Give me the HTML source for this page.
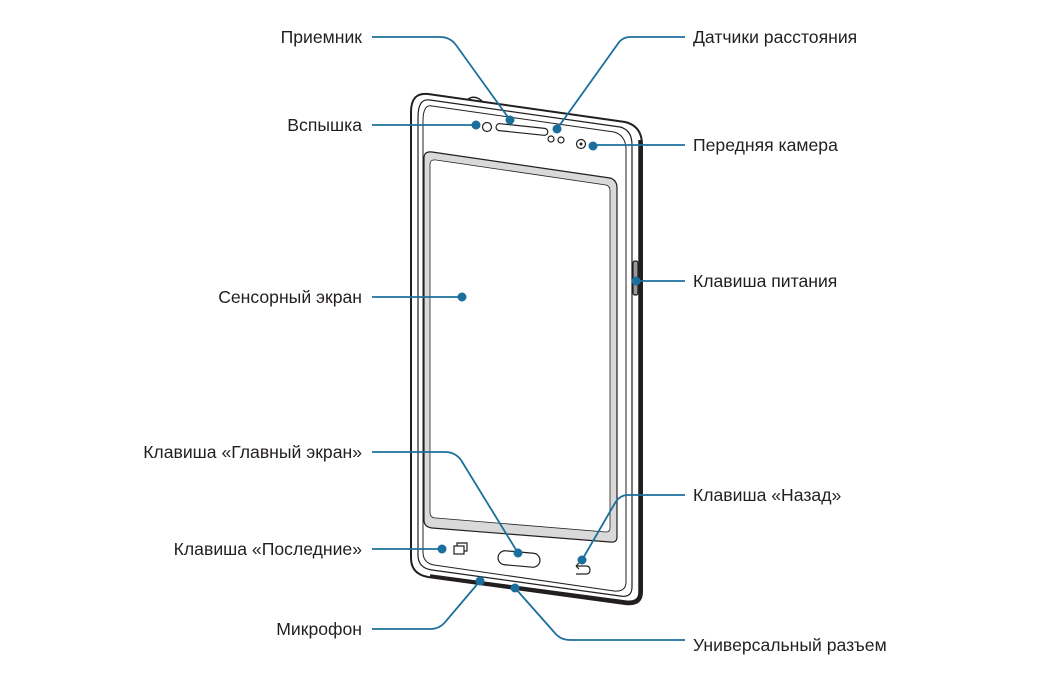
<!DOCTYPE html>
<html><head><meta charset="utf-8"><style>
html,body{margin:0;padding:0;background:#fff;}
svg{display:block}
text{font-family:"Liberation Sans",sans-serif;font-size:17.6px;fill:#231f20}
</style></head><body>
<svg width="1043" height="675" viewBox="0 0 1043 675" xmlns="http://www.w3.org/2000/svg">
<g fill="none" stroke="#231f20">
<path d="M428 94 L625 122 Q642 126 642 145 L642 592 Q642 606 625 604 L428 577 Q411 574 411 558 L411 112 Q411 92 428 94 Z" stroke-width="2"/>
<path d="M640 140 L640 592 Q640 604 625 602 L430 576" stroke-width="3.5"/>
<path d="M430 100 L620 127 Q632 130 632 145 L632 587 Q632 598 620 596 L432 570 Q418 568 418 555 L418 117 Q418 98 430 100 Z" stroke-width="1.2"/>
<path d="M432 106 L614 132 Q625 135 626 148 L626 582 Q626 592 614 591 L434 565 Q423 563 423 552 L423 121 Q423 104 432 106Z" stroke-width="1"/>
<path d="M467 100 Q474 94 482 101" stroke-width="1.5"/>
<path d="M432 152 L610 178 Q617 180 617 188 L617 537 Q617 543 610 542 L432 528 Q424 527 424 520 L424 158 Q424 151 432 152Z" stroke-width="1.2" fill="#d9d9d9"/>
<path d="M436 160 L606 185 Q610 186 610 191 L610 528 Q610 532 606 532 L436 518 Q430 518 430 512 L430 165 Q430 159 436 160Z" stroke-width="0.8" fill="#fff"/>
<circle cx="487" cy="127" r="4.5" stroke-width="1.2"/>
<rect x="496" y="126" width="52" height="7" rx="3.5" stroke-width="1.2" transform="rotate(6 522 129)"/>
<circle cx="551" cy="139" r="3" stroke-width="1.2"/>
<circle cx="561" cy="140" r="3" stroke-width="1.2"/>
<circle cx="581" cy="144" r="4.5" stroke-width="1.2"/>
<circle cx="581" cy="144" r="1.5" fill="#231f20" stroke="none"/>
<rect x="633" y="261" width="5" height="34" rx="2" stroke-width="1.2" fill="#999"/>
<rect x="498" y="552" width="42" height="14" rx="7" stroke-width="1.2" transform="rotate(5 519 559)"/>
<rect x="454" y="546" width="10" height="8" stroke-width="1.2"/>
<path d="M457 546 L457 543 L467 543 L467 551 L464 551" stroke-width="1.2"/>
<path d="M576 566 L586 566 Q590 566 590 570 Q590 574 586 574 L576 574 M576 566 L579 563 M576 566 L579 569" stroke-width="1.2"/>
<path d="M470 582 L530 590" stroke-width="2"/>
</g>
<g fill="none" stroke="#1b6f9c" stroke-width="1.8">
<path d="M372 37 L440 37 Q450 37 456 45 L510 120"/>
<path d="M685 37 L630 37 Q622 37 617 45 L557 129"/>
<path d="M372 125 L476 125"/>
<path d="M593 145 L685 145"/>
<path d="M636 281 L685 281"/>
<path d="M372 297 L462 297"/>
<path d="M372 452 L445 452 Q455 452 461 460 L518 553"/>
<path d="M685 495 L628 495 Q620 495 615 503 L582 560"/>
<path d="M372 549 L442 549"/>
<path d="M372 629 L430 629 Q440 629 446 621 L480 581"/>
<path d="M685 640 L570 640 Q560 640 554 632 L515 588"/>
</g>
<g fill="#1b6f9c">
<circle cx="510" cy="120" r="4.5"/><circle cx="557" cy="129" r="4.5"/>
<circle cx="476" cy="125" r="4.5"/><circle cx="593" cy="146" r="4.5"/>
<circle cx="636" cy="281" r="4.5"/><circle cx="462" cy="297" r="4.5"/>
<circle cx="518" cy="553" r="4.5"/><circle cx="582" cy="560" r="4.5"/>
<circle cx="442" cy="549" r="4.5"/><circle cx="480" cy="581" r="4.5"/>
<circle cx="515" cy="588" r="4.5"/>
</g>
<g text-anchor="end">
<text x="362" y="43">Приемник</text>
<text x="362" y="131">Вспышка</text>
<text x="362" y="303">Сенсорный экран</text>
<text x="362" y="458">Клавиша «Главный экран»</text>
<text x="362" y="555">Клавиша «Последние»</text>
<text x="362" y="635">Микрофон</text>
</g>
<g>
<text x="693" y="43">Датчики расстояния</text>
<text x="693" y="151">Передняя камера</text>
<text x="693" y="287">Клавиша питания</text>
<text x="693" y="501">Клавиша «Назад»</text>
<text x="693" y="651">Универсальный разъем</text>
</g>
</svg>
</body></html>
